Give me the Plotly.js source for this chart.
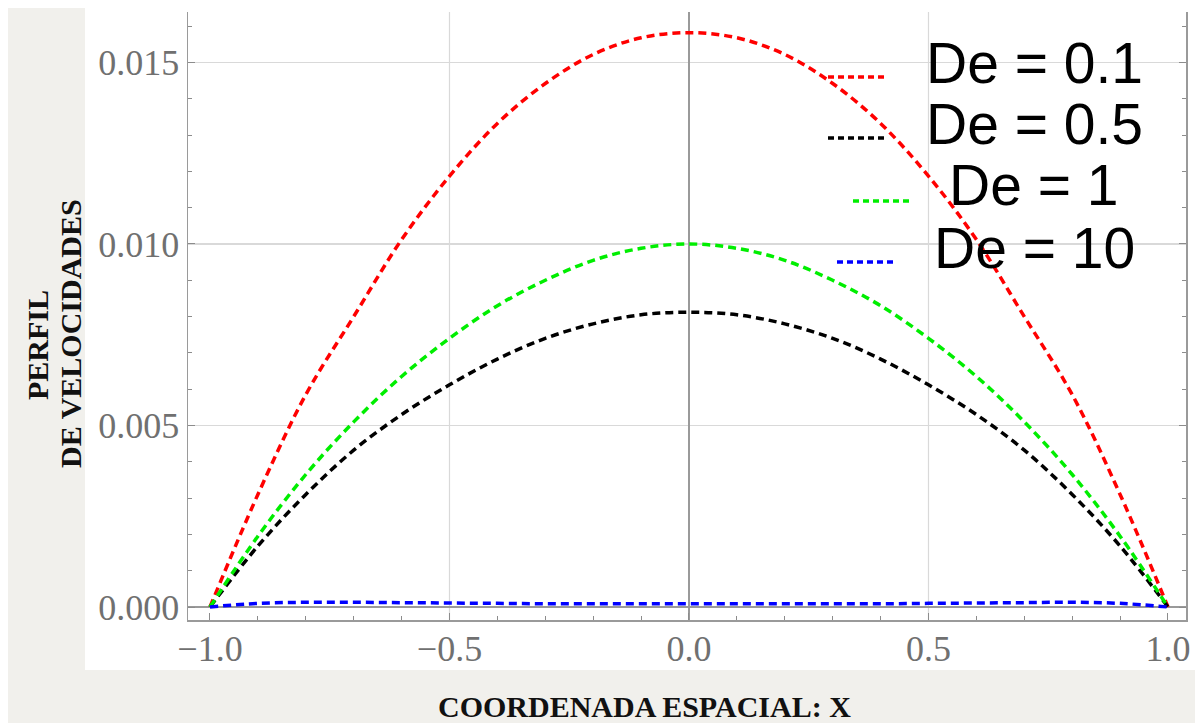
<!DOCTYPE html>
<html>
<head>
<meta charset="utf-8">
<script src="https://cdn.plot.ly/plotly-3.0.1.min.js"></script>
<style>
html,body{margin:0;padding:0;background:#ffffff;}
#chart{width:1195px;height:723px;}
</style>
</head>
<body>
<div id="chart"></div>
<script>
// ---- data ----
const xValues = [-1.0,-0.9,-0.8,-0.7,-0.6,-0.5,-0.4,-0.3,-0.2,-0.1,0.0,0.1,0.2,0.3,0.4,0.5,0.6,0.7,0.8,0.9,1.0];
const deLabels = ['De = 0.1','De = 0.5','De = 1','De = 10'];
const velDe01 = [0,0.00310,0.00585,0.00800,0.01012,0.01187,0.01332,0.01442,0.01522,0.01568,0.01582,0.01568,0.01522,0.01442,0.01332,0.01187,0.01012,0.00800,0.00585,0.00310,0];
const velDe05 = [0,0.00168,0.00310,0.00432,0.00530,0.00612,0.00683,0.00740,0.00780,0.00805,0.00812,0.00805,0.00780,0.00740,0.00683,0.00612,0.00530,0.00432,0.00310,0.00168,0];
const velDe1  = [0,0.00195,0.00365,0.00510,0.00635,0.00740,0.00830,0.00900,0.00955,0.00988,0.01000,0.00988,0.00955,0.00900,0.00830,0.00740,0.00635,0.00510,0.00365,0.00195,0];
const velDe10 = [0,0.00010,0.00013,0.00013,0.00012,0.00011,0.00010,0.00009,0.00009,0.00009,0.00009,0.00009,0.00009,0.00009,0.00009,0.00010,0.00011,0.00012,0.00013,0.00010,0];
const seriesColors = ['#ff0000','#000000','#00ee00','#0000ff'];
const xTickVals = [-1.0,-0.5,0.0,0.5,1.0];
const xGridVals = [-0.5,0.5];
const xTitle = 'COORDENADA ESPACIAL: X';
const yTitleLines = ['PERFIL','DE VELOCIDADES'];

// ---- figure ----
const seriesData = [velDe01, velDe05, velDe1, velDe10];
const dashPat = '8px,5px';
const traces = seriesData.map((ys, i) => ({
  type: 'scatter', mode: 'lines', x: xValues, y: ys, name: deLabels[i],
  line: {color: seriesColors[i], width: 3.5, dash: dashPat, shape: 'spline', smoothing: 1},
  showlegend: false, hoverinfo: 'skip'
}));

const L = 188, R = 1186, T = 12, B = 620, W = 1195, H = 723;
const px = v => (v - L) / (R - L);
const py = v => 1 - (v - T) / (B - T);

const shapes = [];
// background texture bands
shapes.push({type:'rect', xref:'paper', yref:'paper', x0:px(8), x1:px(85), y0:py(H+5), y1:py(8), fillcolor:'#f1f0ec', line:{width:0}, layer:'below'});
shapes.push({type:'rect', xref:'paper', yref:'paper', x0:px(8), x1:px(W+5), y0:py(H+5), y1:py(670), fillcolor:'#f1f0ec', line:{width:0}, layer:'below'});
// vertical gridlines
xGridVals.forEach(g => shapes.push({type:'line', xref:'x', yref:'paper', x0:g, x1:g, y0:0, y1:1, line:{color:'#d9d9d9', width:1.2}, layer:'below'}));
// legend samples
const legendLinePos = [[828,888,77],[828,888,138],[853,913,201],[837,897,262]];
legendLinePos.forEach((p, i) => shapes.push({type:'line', xref:'paper', yref:'paper', x0:px(p[0]), x1:px(p[1]), y0:py(p[2]), y1:py(p[2]), line:{color:seriesColors[i], width:3.5, dash:'6px,4px'}}));

const annotations = [];
const legendTextY = [62.5, 124, 185, 248];
deLabels.forEach((t, i) => annotations.push({xref:'paper', yref:'paper', x:px(1034), y:py(legendTextY[i]), xanchor:'center', yanchor:'middle', text:t, showarrow:false, font:{family:'Liberation Sans, Arial, sans-serif', size:57, color:'#000000'}}));
annotations.push({xref:'paper', yref:'paper', x:px(644), y:py(706), xanchor:'center', yanchor:'middle', text:'<b>'+xTitle+'</b>', showarrow:false, font:{family:'Liberation Serif, Times New Roman, serif', size:30, color:'#111111'}});
annotations.push({xref:'paper', yref:'paper', x:px(37), y:py(345), xanchor:'center', yanchor:'middle', textangle:-90, text:'<b>'+yTitleLines[0]+'</b>', showarrow:false, font:{family:'Liberation Serif, Times New Roman, serif', size:30, color:'#111111'}});
annotations.push({xref:'paper', yref:'paper', x:px(70), y:py(334), xanchor:'center', yanchor:'middle', textangle:-90, text:'<b>'+yTitleLines[1]+'</b>', showarrow:false, font:{family:'Liberation Serif, Times New Roman, serif', size:30, color:'#111111'}});

const tickFont = {family:'Liberation Serif, Times New Roman, serif', size:36, color:'#707070'};
const layout = {
  width: W, height: H,
  margin: {l: L, r: W - R, t: T, b: H - B, pad: 0},
  paper_bgcolor: '#ffffff', plot_bgcolor: '#ffffff',
  showlegend: false,
  xaxis: {
    range: [-1.0459, 1.0376], tickvals: xTickVals, tickformat: '.1f',
    ticks: 'inside', ticklen: 7, tickwidth: 1, tickcolor: '#8c8c8c',
    showline: true, linecolor: '#9a9a9a', linewidth: 1.5, mirror: false,
    showgrid: false, zeroline: true, zerolinecolor: '#9a9a9a', zerolinewidth: 1.2,
    tickfont: tickFont, ticklabelstandoff: -4,
    minor: {dtick: 0.1, tick0: 0, ticks: 'inside', ticklen: 4, tickcolor: '#8c8c8c', showgrid: false}
  },
  yaxis: {
    range: [-0.000358, 0.01639], tick0: 0, dtick: 0.005, tickformat: '.3f',
    ticks: 'inside', ticklen: 7, tickwidth: 1, tickcolor: '#8c8c8c',
    showline: true, linecolor: '#9a9a9a', linewidth: 1.5, mirror: 'ticks',
    showgrid: true, gridcolor: '#d9d9d9', gridwidth: 1.2,
    zeroline: true, zerolinecolor: '#9a9a9a', zerolinewidth: 1.2,
    tickfont: tickFont,
    minor: {dtick: 0.001, tick0: 0, ticks: 'inside', ticklen: 4, tickcolor: '#8c8c8c', showgrid: false}
  },
  shapes: shapes,
  annotations: annotations
};

Plotly.newPlot('chart', traces, layout, {displayModeBar: false, staticPlot: true});
</script>
</body>
</html>
